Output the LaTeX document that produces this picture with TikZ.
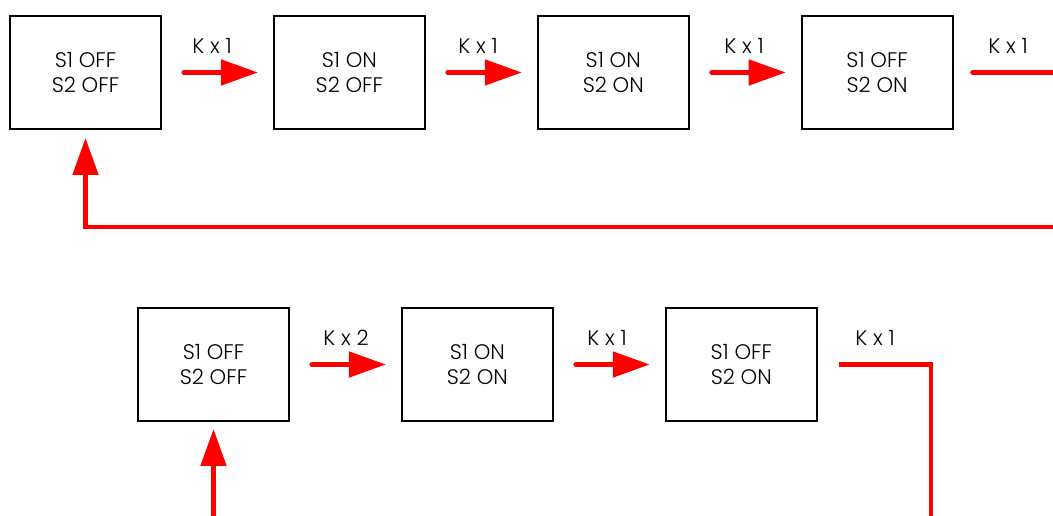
\documentclass[tikz,border=0pt]{standalone}
\usepackage{fontspec}
\setmainfont{Poppins}[UprightFont=* Light]
\usetikzlibrary{positioning,arrows.meta}
\usepackage{xcolor}
\definecolor{SwRed}{RGB}{255,0,0}

\begin{document}
\begin{tikzpicture}[
x=0.02cm,y=-0.02cm,
node distance=2.22cm,
state/.style={rectangle,draw=black,line width=1.1pt,minimum width=3.02cm,minimum height=2.26cm,
align=center,font=\fontsize{12}{14}\selectfont},
arrow/.style={-{Triangle[length=0.74cm,width=0.5cm]},line width=2.8pt,draw=SwRed,line cap=round},
feed/.style={line width=2.8pt,draw=SwRed,line cap=round},
lbl/.style={font=\fontsize{12}{14}\selectfont,inner sep=0pt}
]
\useasboundingbox (0,0) rectangle (1053,516);
% top row
\node[state] (a) at (85.5,72.5) {S1 OFF\\S2 OFF};
\node[state,right=of a] (b) {S1 ON\\S2 OFF};
\node[state,right=of b] (c) {S1 ON\\S2 ON};
\node[state,right=of c] (d) {S1 OFF\\S2 ON};
\coordinate (dout) at (1060,72.5);
\coordinate (back) at (1060,227);
\draw[arrow,shorten <=0.44cm,shorten >=0.3cm] (a)--(b);
\draw[arrow,shorten <=0.44cm,shorten >=0.3cm] (b)--(c);
\draw[arrow,shorten <=0.44cm,shorten >=0.3cm] (c)--(d);
\draw[feed,shorten <=0.38cm] (d.east)--(dout);
\draw[arrow,shorten >=0.16cm] (back)-|(a.south);
\node[lbl] at (212,46) {K x 1};
\node[lbl] at (478,46) {K x 1};
\node[lbl] at (744,46) {K x 1};
\node[lbl] at (1008,46) {K x 1};
% bottom row
\node[state] (e) at (213.5,364.5) {S1 OFF\\S2 OFF};
\node[state,right=of e] (f) {S1 ON\\S2 ON};
\node[state,right=of f] (g) {S1 OFF\\S2 ON};
\coordinate (gturn) at (931,364.5);
\coordinate (gout) at (931,525);
\coordinate (ein) at (213.5,525);
\draw[arrow,shorten <=0.44cm,shorten >=0.3cm] (e)--(f);
\draw[arrow,shorten <=0.44cm,shorten >=0.3cm] (f)--(g);
\draw[feed,shorten <=0.42cm,line cap=butt] (g.east)--(gturn)--(gout);
\draw[arrow,shorten >=0.14cm] (ein)--(e.south);
\node[lbl] at (346,338) {K x 2};
\node[lbl] at (607,338) {K x 1};
\node[lbl] at (875,338) {K x 1};
\end{tikzpicture}
\end{document}
